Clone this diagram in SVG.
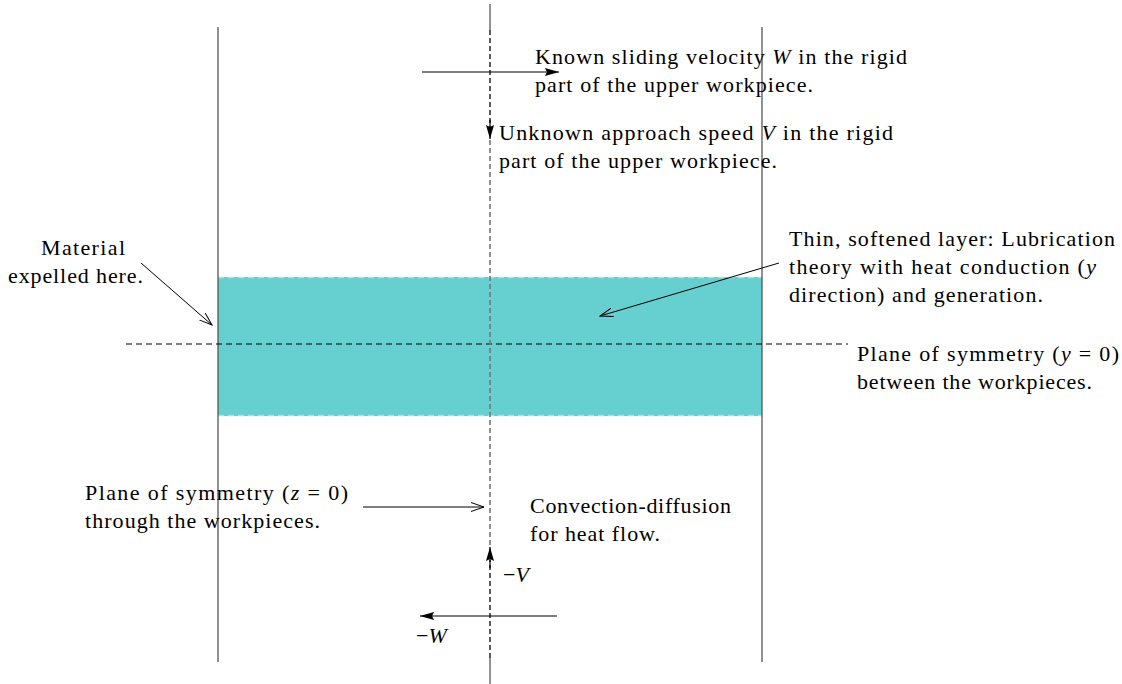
<svg xmlns="http://www.w3.org/2000/svg" width="1122" height="684" viewBox="0 0 1122 684">
<style>
text{font-family:"Liberation Serif","DejaVu Serif",serif;font-size:22px;fill:#000}
.it{font-style:italic}
.frame{stroke:#555;stroke-width:1.3;fill:none}
.gl{stroke:#777;stroke-width:1.6;fill:none}
.gd{stroke:#777;stroke-width:1.6;fill:none;stroke-dasharray:5 3}
.dd{stroke:#333;stroke-width:1.6;fill:none;stroke-dasharray:5 3}
.hd{stroke:#000;stroke-width:1;fill:none;stroke-dasharray:6 4}
.ar{stroke:#000;stroke-width:1.2;fill:none}
.ld{stroke:#000;stroke-width:1;fill:none}
</style>
<defs>
<marker id="fa" viewBox="0 0 14 8" refX="14" refY="4" markerWidth="14" markerHeight="8" markerUnits="userSpaceOnUse" orient="auto">
<path d="M0,0 L14,4 L0,8 L2,4 Z" fill="#000"/>
</marker>
<marker id="oa" viewBox="0 0 14 10" refX="13" refY="5" markerWidth="14" markerHeight="10" markerUnits="userSpaceOnUse" orient="auto">
<path d="M0,0.5 L13,5 L0,9.5" fill="none" stroke="#000" stroke-width="1"/>
</marker>
</defs>
<g id="layer">
<rect x="218" y="277" width="544" height="139" fill="#66CFCF"/>
<line x1="218" y1="277.5" x2="762" y2="277.5" stroke="#A8E4E4" stroke-width="1.5" stroke-dasharray="6 4"/>
<line x1="218" y1="415.5" x2="762" y2="415.5" stroke="#A8E4E4" stroke-width="1.5" stroke-dasharray="6 4"/>
</g>
<g id="workpiece-bounds">
<line class="frame" x1="218" y1="27" x2="218" y2="662"/>
<line class="frame" x1="762" y1="27" x2="762" y2="662"/>
</g>
<g id="symmetry-lines">
<line class="hd" x1="126" y1="344" x2="848" y2="344"/>
<line class="gl" x1="490" y1="4" x2="490" y2="30"/>
<line class="gd" x1="490" y1="140" x2="490" y2="546"/>
<line class="gl" x1="490" y1="658" x2="490" y2="684"/>
</g>
<g id="connectors">
<line class="dd" x1="490" y1="30" x2="490" y2="128"/>
<line class="ar" x1="490" y1="120" x2="490" y2="139" marker-end="url(#fa)"/>
<line class="dd" x1="490" y1="658" x2="490" y2="560"/>
<line class="ar" x1="490" y1="568" x2="490" y2="547" marker-end="url(#fa)"/>
<line class="ar" x1="422" y1="72" x2="559" y2="72" marker-end="url(#fa)"/>
<line class="ar" x1="557" y1="616" x2="420" y2="616" marker-end="url(#fa)"/>
<line class="ld" x1="141" y1="263" x2="212" y2="325" marker-end="url(#oa)"/>
<line class="ld" x1="779" y1="263" x2="600" y2="316" marker-end="url(#oa)"/>
<line class="ld" x1="363" y1="507" x2="484" y2="507" marker-end="url(#oa)"/>
</g>
<g id="label-sliding">
<text x="535" y="64" textLength="372" lengthAdjust="spacing">Known sliding velocity <tspan class="it">W</tspan> in the rigid</text>
<text x="535" y="92" textLength="278" lengthAdjust="spacing">part of the upper workpiece.</text>
</g>
<g id="label-approach">
<text x="499" y="140" textLength="394" lengthAdjust="spacing">Unknown approach speed <tspan class="it">V</tspan> in the rigid</text>
<text x="499" y="168" textLength="278" lengthAdjust="spacing">part of the upper workpiece.</text>
</g>
<g id="label-expelled">
<text x="41" y="255" textLength="84" lengthAdjust="spacing">Material</text>
<text x="8" y="283" textLength="135" lengthAdjust="spacing">expelled here.</text>
</g>
<g id="label-layer">
<text x="789" y="246" textLength="326" lengthAdjust="spacing">Thin, softened layer: Lubrication</text>
<text x="789" y="274" textLength="307" lengthAdjust="spacing">theory with heat conduction (<tspan class="it">y</tspan></text>
<text x="789" y="302" textLength="254" lengthAdjust="spacing">direction) and generation.</text>
</g>
<g id="label-plane-y">
<text x="857" y="361" textLength="262" lengthAdjust="spacing">Plane of symmetry (<tspan class="it">y</tspan> = 0)</text>
<text x="857" y="389" textLength="235" lengthAdjust="spacing">between the workpieces.</text>
</g>
<g id="label-plane-z">
<text x="85" y="500" textLength="263" lengthAdjust="spacing">Plane of symmetry (<tspan class="it">z</tspan> = 0)</text>
<text x="85" y="528" textLength="235" lengthAdjust="spacing">through the workpieces.</text>
</g>
<g id="label-convection">
<text x="530" y="513" textLength="201" lengthAdjust="spacing">Convection-diffusion</text>
<text x="530" y="541" textLength="130" lengthAdjust="spacing">for heat flow.</text>
</g>
<g id="label-minus-v">
<text x="503" y="582">−<tspan class="it">V</tspan></text>
</g>
<g id="label-minus-w">
<text x="416" y="643">−<tspan class="it">W</tspan></text>
</g>
</svg>
